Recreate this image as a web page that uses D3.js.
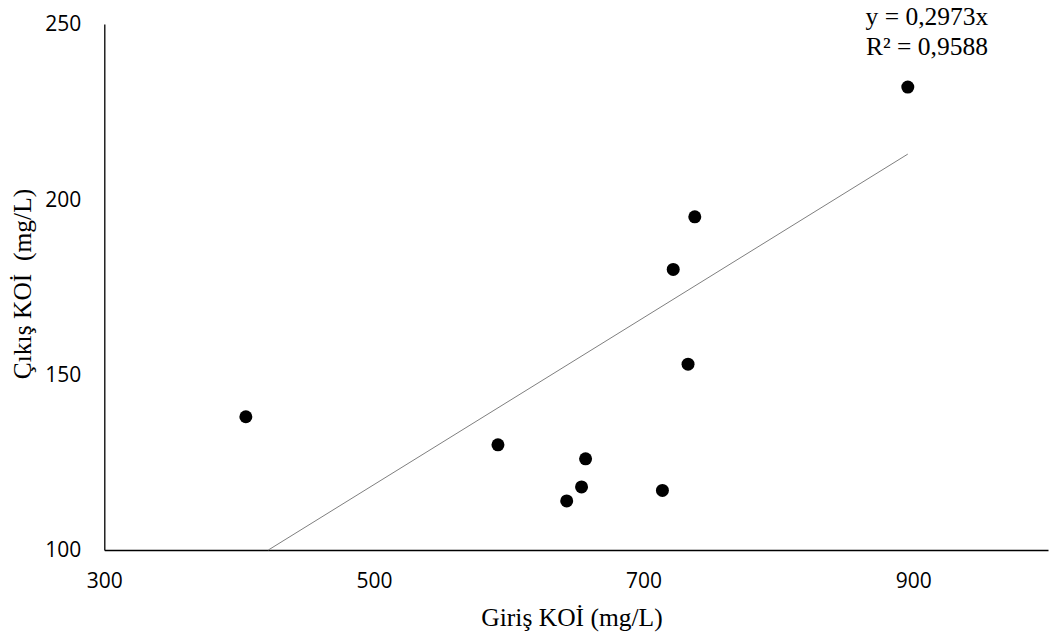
<!DOCTYPE html>
<html lang="tr">
<head>
    <meta charset="UTF-8">
    <title>Giriş / Çıkış KOİ</title>
    <style>
    html, body {
        margin: 0;
        padding: 0;
        background-color: white;
    }

    svg {
        display: block;
    }

    .tick text {
        font-family: "Open Sans", "Liberation Sans", Arial, sans-serif;
        font-size: 21px;
        fill: #000;
    }

    .domain {
        stroke: #000;
        stroke-width: 1.3px;
    }

    .axis-title, .equation {
        font-family: "Liberation Serif", "Times New Roman", serif;
        font-size: 25.5px;
        fill: #000;
    }
    </style>
    <script src="https://d3js.org/d3.v7.min.js"></script>
</head>
<body>
    <svg id="canvas"></svg>

    <script>
    // Data
    let girisKoi = [405, 592, 643, 654, 657, 714, 722, 733, 738, 896];
    let cikisKoi = [138, 130, 114, 118, 126, 117, 180, 153, 195, 232];

    // trendline as drawn (clipped at the x axis, ends at last point)
    let trendX = [421.7, 896];
    let trendY = [100, 212.9];

    let xTicks = [300, 500, 700, 900];
    let yTicks = [100, 150, 200, 250];

    let equationLines = ['y = 0,2973x', 'R² = 0,9588'];

    let width = 1051;
    let height = 644;
    let plotLeft = 104.3;
    let plotRight = 1048;
    let plotTop = 24;
    let plotBottom = 550;

    let svg = d3.select('#canvas')
        .attr('width', width)
        .attr('height', height);

    // Scales
    let xScale = d3.scaleLinear()
        .domain([300, 1000])
        .range([plotLeft, plotRight]);

    let yScale = d3.scaleLinear()
        .domain([100, 250])
        .range([plotBottom, plotTop]);

    // Axes
    let xAxis = d3.axisBottom(xScale)
        .tickValues(xTicks)
        .tickSize(0)
        .tickSizeOuter(0)
        .tickPadding(23);

    let yAxis = d3.axisLeft(yScale)
        .tickValues(yTicks)
        .tickSize(0)
        .tickSizeOuter(0)
        .tickPadding(23);

    svg.append('g')
        .attr('id', 'x-axis')
        .attr('transform', 'translate(0, ' + plotBottom + ')')
        .call(xAxis);

    svg.append('g')
        .attr('id', 'y-axis')
        .attr('transform', 'translate(' + plotLeft + ', 0)')
        .call(yAxis);

    // Trendline
    svg.append('line')
        .attr('x1', xScale(trendX[0]))
        .attr('y1', yScale(trendY[0]))
        .attr('x2', xScale(trendX[1]))
        .attr('y2', yScale(trendY[1]))
        .attr('stroke', '#7f7f7f')
        .attr('stroke-width', 1);

    // Points
    svg.selectAll('circle')
        .data(girisKoi)
        .enter()
        .append('circle')
        .attr('cx', (d) => xScale(d))
        .attr('cy', (d, i) => yScale(cikisKoi[i]))
        .attr('r', 6.5)
        .attr('fill', '#000');

    // Equation label
    svg.selectAll('.equation')
        .data(equationLines)
        .enter()
        .append('text')
        .attr('class', 'equation')
        .attr('x', 927)
        .attr('y', (d, i) => 25 + i * 30)
        .attr('text-anchor', 'middle')
        .text((d) => d);

    // Axis titles
    svg.append('text')
        .attr('class', 'axis-title')
        .attr('x', 572)
        .attr('y', 626)
        .attr('text-anchor', 'middle')
        .text('Giriş KOİ (mg/L)');

    svg.append('text')
        .attr('class', 'axis-title')
        .attr('transform', 'translate(31, 284) rotate(-90)')
        .attr('text-anchor', 'middle')
        .attr('xml:space', 'preserve')
        .style('white-space', 'pre')
        .text('Çıkış KOİ  (mg/L)');
    </script>
</body>
</html>
